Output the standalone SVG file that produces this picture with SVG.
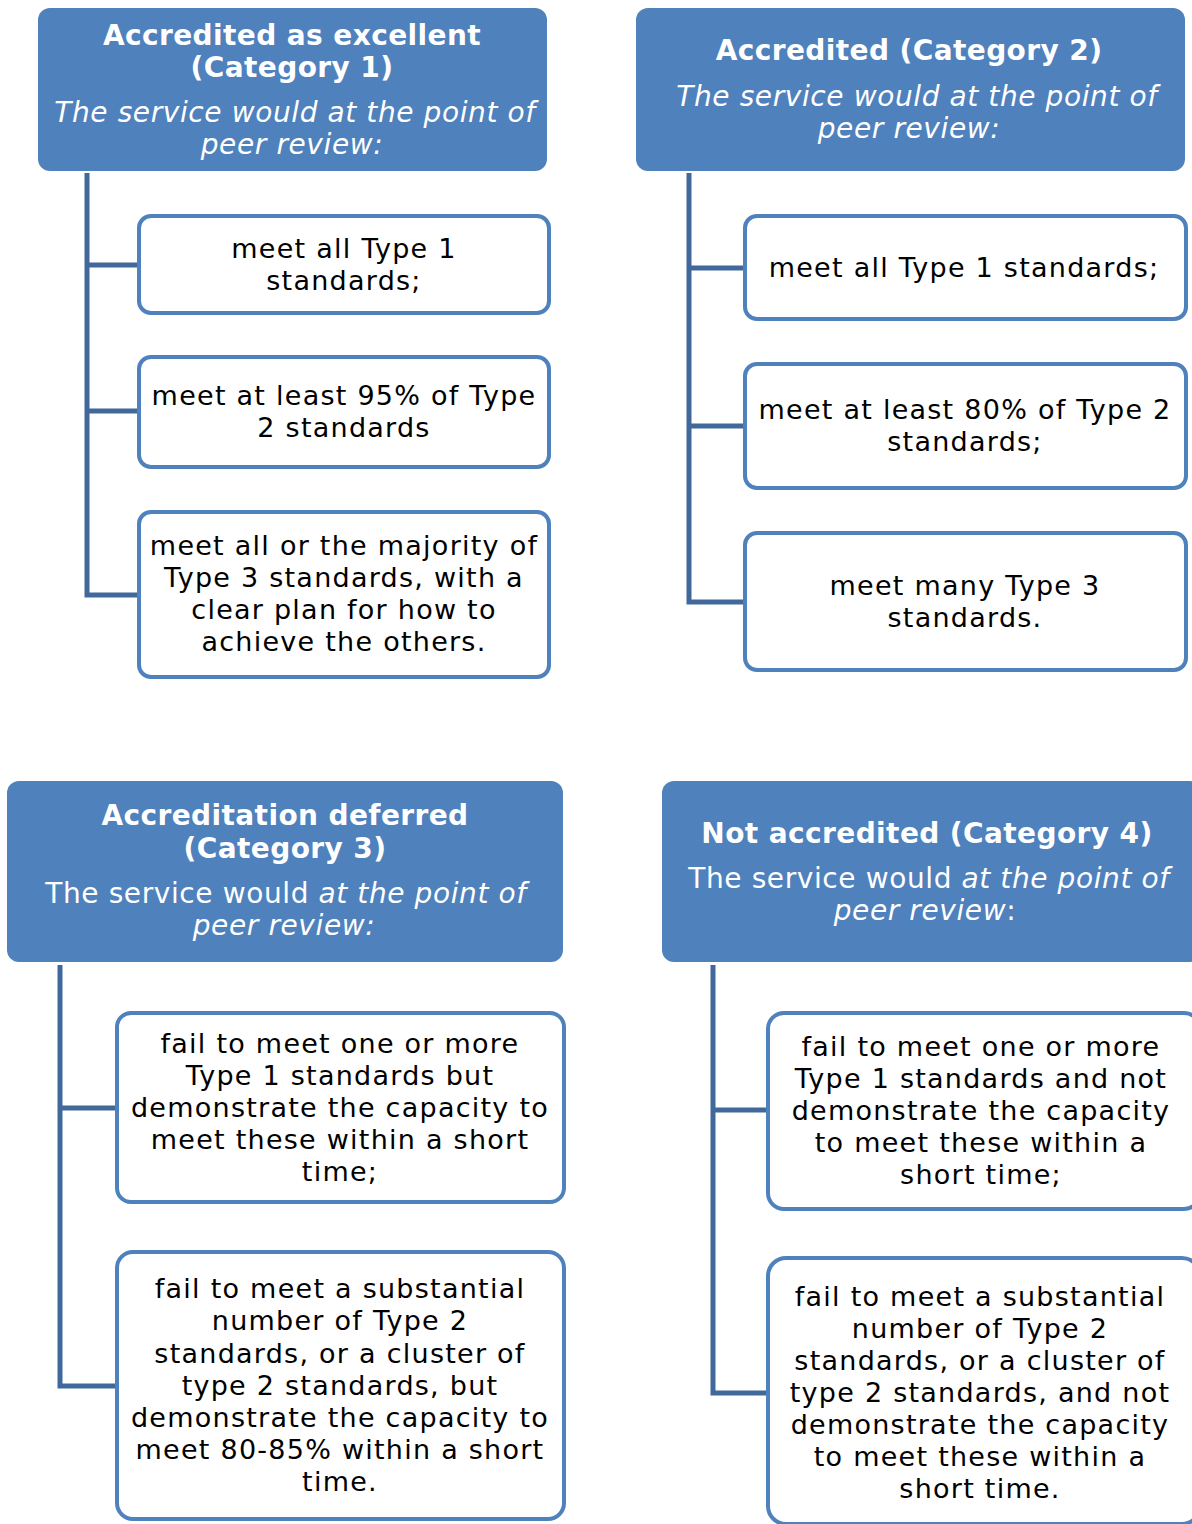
<svg xmlns="http://www.w3.org/2000/svg" width="1192" height="1524" viewBox="0 0 1192 1524">
<style>
.hdr{fill:#4F81BD}
.box{fill:#FFFFFF;stroke:#4F81BD;stroke-width:4}
.con{fill:none;stroke:#41689B;stroke-width:5;stroke-linejoin:miter}
text{font-family:"DejaVu Sans",Verdana,"Liberation Sans",sans-serif;text-anchor:middle}
.ht{fill:#FFFFFF;font-size:28px;font-weight:bold;letter-spacing:0.4px}
.hs{fill:#FFFFFF;font-size:28px;letter-spacing:0.6px}
.it{font-style:italic}
.bt{fill:#000000;font-size:27px;letter-spacing:1.25px}
</style>
<rect width="1192" height="1524" fill="#FFFFFF"/>
<g id="connectors">
<path class="con" d="M87,173 V595 H137 M87,265 H137 M87,411 H137"/>
<path class="con" d="M689,173 V602 H743 M689,268 H743 M689,426 H743"/>
<path class="con" d="M60,965 V1386 H115 M60,1108 H115"/>
<path class="con" d="M713,965 V1393 H766 M713,1110 H766"/>
</g>
<g id="cat1">
<rect class="hdr" x="38" y="8" width="509" height="163" rx="12"/>
<text class="ht" x="292" y="45">Accredited as excellent</text>
<text class="ht" x="292" y="77">(Category 1)</text>
<text class="hs it" x="295" y="122">The service would at the point of</text>
<text class="hs it" x="292" y="154">peer review:</text>
</g>
<g id="cat1a">
<rect class="box" x="139" y="216" width="410" height="97" rx="12"/>
<text class="bt" x="344" y="258">meet all Type 1</text>
<text class="bt" x="344" y="290">standards;</text>
</g>
<g id="cat1b">
<rect class="box" x="139" y="357" width="410" height="110" rx="12"/>
<text class="bt" x="344" y="405">meet at least 95% of Type</text>
<text class="bt" x="344" y="437">2 standards</text>
</g>
<g id="cat1c">
<rect class="box" x="139" y="512" width="410" height="165" rx="12"/>
<text class="bt" x="344" y="555">meet all or the majority of</text>
<text class="bt" x="344" y="587">Type 3 standards, with a</text>
<text class="bt" x="344" y="619">clear plan for how to</text>
<text class="bt" x="344" y="651">achieve the others.</text>
</g>
<g id="cat2">
<rect class="hdr" x="636" y="8" width="549" height="163" rx="12"/>
<text class="ht" x="909" y="60">Accredited (Category 2)</text>
<text class="hs it" x="917" y="106">The service would at the point of</text>
<text class="hs it" x="909" y="138">peer review:</text>
</g>
<g id="cat2a">
<rect class="box" x="745" y="216" width="441" height="103" rx="12"/>
<text class="bt" x="964" y="277">meet all Type 1 standards;</text>
</g>
<g id="cat2b">
<rect class="box" x="745" y="364" width="441" height="124" rx="12"/>
<text class="bt" x="965" y="419">meet at least 80% of Type 2</text>
<text class="bt" x="965" y="451">standards;</text>
</g>
<g id="cat2c">
<rect class="box" x="745" y="533" width="441" height="137" rx="12"/>
<text class="bt" x="965" y="595">meet many Type 3</text>
<text class="bt" x="965" y="627">standards.</text>
</g>
<g id="cat3">
<rect class="hdr" x="7" y="781" width="556" height="181" rx="12"/>
<text class="ht" x="285" y="825">Accreditation deferred</text>
<text class="ht" x="285" y="858">(Category 3)</text>
<text class="hs" x="286" y="903">The service would <tspan class="it">at the point of</tspan></text>
<text class="hs it" x="284" y="935">peer review:</text>
</g>
<g id="cat3a">
<rect class="box" x="117" y="1013" width="447" height="189" rx="14"/>
<text class="bt" x="340" y="1053">fail to meet one or more</text>
<text class="bt" x="340" y="1085">Type 1 standards but</text>
<text class="bt" x="340" y="1117">demonstrate the capacity to</text>
<text class="bt" x="340" y="1149">meet these within a short</text>
<text class="bt" x="340" y="1181">time;</text>
</g>
<g id="cat3b">
<rect class="box" x="117" y="1252" width="447" height="267" rx="16"/>
<text class="bt" x="340" y="1298">fail to meet a substantial</text>
<text class="bt" x="340" y="1330">number of Type 2</text>
<text class="bt" x="340" y="1363">standards, or a cluster of</text>
<text class="bt" x="340" y="1395">type 2 standards, but</text>
<text class="bt" x="340" y="1427">demonstrate the capacity to</text>
<text class="bt" x="340" y="1459">meet 80-85% within a short</text>
<text class="bt" x="340" y="1491">time.</text>
</g>
<g id="cat4">
<rect class="hdr" x="662" y="781" width="540" height="181" rx="12"/>
<text class="ht" x="927" y="843">Not accredited (Category 4)</text>
<text class="hs" x="929" y="888">The service would <tspan class="it">at the point of</tspan></text>
<text class="hs" x="925" y="920"><tspan class="it">peer review</tspan>:</text>
</g>
<g id="cat4a">
<rect class="box" x="768" y="1013" width="432" height="196" rx="16"/>
<text class="bt" x="981" y="1056">fail to meet one or more</text>
<text class="bt" x="981" y="1088">Type 1 standards and not</text>
<text class="bt" x="981" y="1120">demonstrate the capacity</text>
<text class="bt" x="981" y="1152">to meet these within a</text>
<text class="bt" x="981" y="1184">short time;</text>
</g>
<g id="cat4b">
<rect class="box" x="768" y="1258" width="432" height="266" rx="18"/>
<text class="bt" x="980" y="1306">fail to meet a substantial</text>
<text class="bt" x="980" y="1338">number of Type 2</text>
<text class="bt" x="980" y="1370">standards, or a cluster of</text>
<text class="bt" x="980" y="1402">type 2 standards, and not</text>
<text class="bt" x="980" y="1434">demonstrate the capacity</text>
<text class="bt" x="980" y="1466">to meet these within a</text>
<text class="bt" x="980" y="1498">short time.</text>
</g>
</svg>
